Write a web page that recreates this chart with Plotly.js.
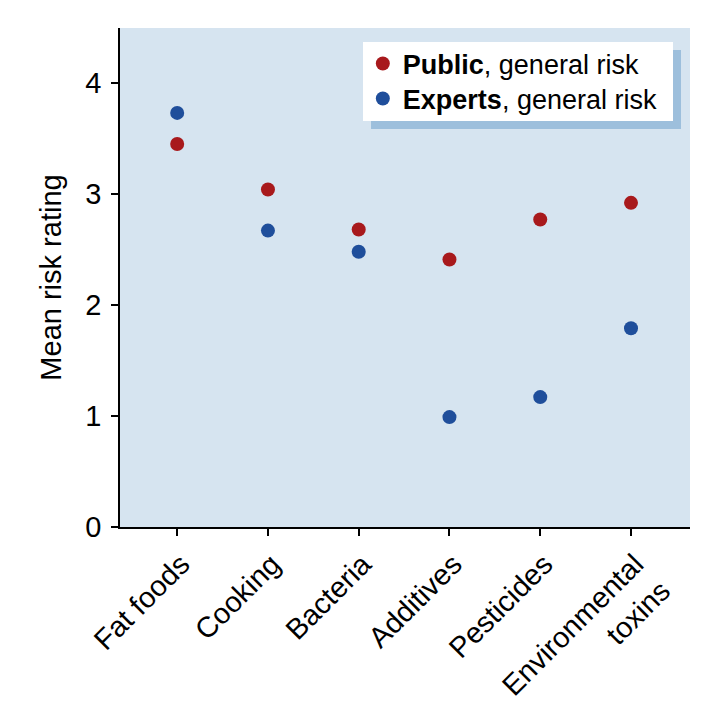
<!DOCTYPE html>
<html>
<head>
<meta charset="utf-8">
<script src="https://cdn.plot.ly/plotly-3.0.1.min.js"></script>
<style>html,body{margin:0;padding:0;background:#fff;}</style>
</head>
<body>
<div id="chart" style="width:721px;height:714px;"></div>
<script>
const categories = ["Fat foods", "Cooking", "Bacteria", "Additives", "Pesticides", "Environmental<br>toxins"];
const publicRisk = [3.45, 3.04, 2.68, 2.41, 2.77, 2.92];
const expertRisk = [3.73, 2.67, 2.48, 0.99, 1.17, 1.79];
const yTicks = [0, 1, 2, 3, 4];

const font = "Liberation Sans, Arial, Helvetica, sans-serif";

const traces = [
  {x: categories, y: publicRisk, type: "scatter", mode: "markers",
   name: "<b>Public</b>, general risk", legend: "legend",
   marker: {color: "#a8191c", size: 14}},
  {x: categories, y: expertRisk, type: "scatter", mode: "markers",
   name: "<b>Experts</b>, general risk", legend: "legend2",
   marker: {color: "#1f4e9b", size: 14}}
];

const legendBase = {
  x: 0.426, xanchor: "left", yanchor: "middle",
  bgcolor: "rgba(0,0,0,0)", borderwidth: 0,
  font: {family: font, size: 27},
  itemwidth: 30
};

const layout = {
  width: 721, height: 714,
  margin: {l: 120, r: 31, t: 28, b: 187},
  paper_bgcolor: "#ffffff",
  plot_bgcolor: "#d6e4f0",
  font: {family: font, size: 29, color: "#000"},
  xaxis: {
    type: "category",
    range: [-0.63, 5.65],
    showgrid: false, zeroline: false,
    showline: true, linecolor: "#000", linewidth: 1.5,
    ticks: "outside", ticklen: 7, tickwidth: 1.5, tickcolor: "#000",
    tickangle: -45,
    ticklabelshift: 4,
    tickfont: {family: font, size: 29}
  },
  yaxis: {
    range: [0, 4.495],
    tickvals: yTicks,
    showgrid: false, zeroline: false,
    showline: true, linecolor: "#000", linewidth: 1.5,
    ticks: "outside", ticklen: 7, tickwidth: 1.5, tickcolor: "#000",
    ticklabelstandoff: 4,
    tickfont: {family: font, size: 29},
    automargin: true,
    title: {text: "Mean risk rating", font: {family: font, size: 29}, standoff: 15}
  },
  showlegend: true,
  legend: Object.assign({}, legendBase, {y: 0.9279}),
  legend2: Object.assign({}, legendBase, {y: 0.8577}),
  shapes: [
    {type: "rect", xref: "paper", yref: "paper",
     x0: 0.4404, x1: 0.9842, y0: 0.7976, y1: 0.9559,
     fillcolor: "#9dbfdc", line: {width: 0}, layer: "above"},
    {type: "rect", xref: "paper", yref: "paper",
     x0: 0.4263, x1: 0.9702, y0: 0.8136, y1: 0.9719,
     fillcolor: "#ffffff", line: {width: 0}, layer: "above"}
  ]
};

Plotly.newPlot("chart", traces, layout, {displayModeBar: false});
</script>
</body>
</html>
